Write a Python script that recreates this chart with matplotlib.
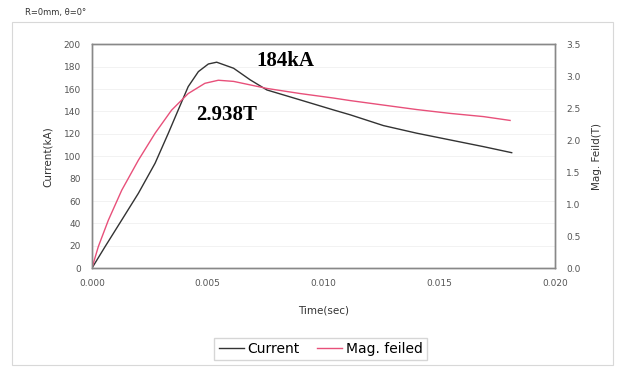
import numpy as np
import matplotlib.pyplot as plt
from matplotlib.patches import Rectangle

# time samples (sec) and measured current (kA)
t_cur = [0.0, 0.00057, 0.00129, 0.00201, 0.00273, 0.00330, 0.00373, 0.00416,
         0.00460, 0.00503, 0.00539, 0.00612, 0.00684, 0.00756, 0.00900,
         0.01043, 0.01116, 0.01259, 0.01403, 0.01547, 0.01691, 0.01813]
current_ka = [0, 19.3, 43.1, 67.0, 93.8, 120.5, 141.4, 162.2, 175.6, 182.4,
              184, 178.6, 168.2, 159.2, 150.3, 141.4, 137.0, 127.4, 120.6,
              114.6, 108.6, 103.2]

# magnetic field (T)
t_mag = [0.0, 0.00028, 0.00071, 0.00129, 0.00201, 0.00273, 0.00344, 0.00416,
         0.00488, 0.00546, 0.00612, 0.00756, 0.00900, 0.01043, 0.01116,
         0.01259, 0.01403, 0.01547, 0.01691, 0.01806]
field_t = [0, 0.34, 0.75, 1.22, 1.69, 2.11, 2.47, 2.73, 2.89, 2.938, 2.92,
           2.81, 2.73, 2.66, 2.62, 2.55, 2.48, 2.42, 2.37, 2.31]

peak_current = 184
peak_field = 2.938

fig = plt.figure(figsize=(6.25, 3.69), dpi=100)
fig.patches.append(Rectangle((0.019, 0.01), 0.962, 0.93, transform=fig.transFigure,
                             fill=False, edgecolor='#d8d8d8', lw=0.8))
fig.text(0.04, 0.965, 'R=0mm, θ=0°', fontsize=6, color='#333333', va='center')

ax = fig.add_axes([0.147, 0.273, 0.741, 0.607])
ax2 = ax.twinx()

ax.plot(t_cur, current_ka, color='#333333', lw=1.0, label='Current')
ax2.plot(t_mag, field_t, color='#e8507a', lw=1.0, label='Mag. feiled')

ax.set_xlim(0, 0.02)
ax.set_ylim(0, 200)
ax2.set_ylim(0, 3.5)
ax.set_xticks(np.arange(0, 0.0201, 0.005))
ax.set_yticks(range(0, 201, 20))
ax2.set_yticks(np.arange(0, 3.51, 0.5))
ax.xaxis.set_major_formatter(plt.FormatStrFormatter('%.3f'))
ax2.yaxis.set_major_formatter(plt.FormatStrFormatter('%.1f'))
ax.grid(axis='y', color='#f0f0f0', lw=0.6)

for a in (ax, ax2):
    a.tick_params(labelsize=6.5, colors='#555555', length=0, pad=8)
    for s in a.spines.values():
        s.set_color('#888888')
        s.set_linewidth(1.0)

ax.set_xlabel('Time(sec)', fontsize=7.5, color='#333333', labelpad=12)
ax.set_ylabel('Current(kA)', fontsize=7.5, color='#333333', labelpad=8)
ax2.set_ylabel('Mag. Feild(T)', fontsize=7.5, color='#333333', rotation=90, labelpad=8)

ax.text(0.00835, 185, f'{peak_current}kA', fontsize=15, fontweight='bold',
        family='Liberation Serif', ha='center', va='center')
ax2.text(0.0058, 2.40, f'{peak_field}T', fontsize=15, fontweight='bold',
         family='Liberation Serif', ha='center', va='center')

h1, l1 = ax.get_legend_handles_labels()
h2, l2 = ax2.get_legend_handles_labels()
fig.legend(h1 + h2, l1 + l2, loc='center', bbox_to_anchor=(0.513, 0.055), ncol=2,
           fontsize=10, frameon=True, fancybox=False, edgecolor='#cccccc',
           handlelength=1.8, handletextpad=0.3, columnspacing=1.2, borderpad=0.3)

fig.savefig('out.png', dpi=100)
